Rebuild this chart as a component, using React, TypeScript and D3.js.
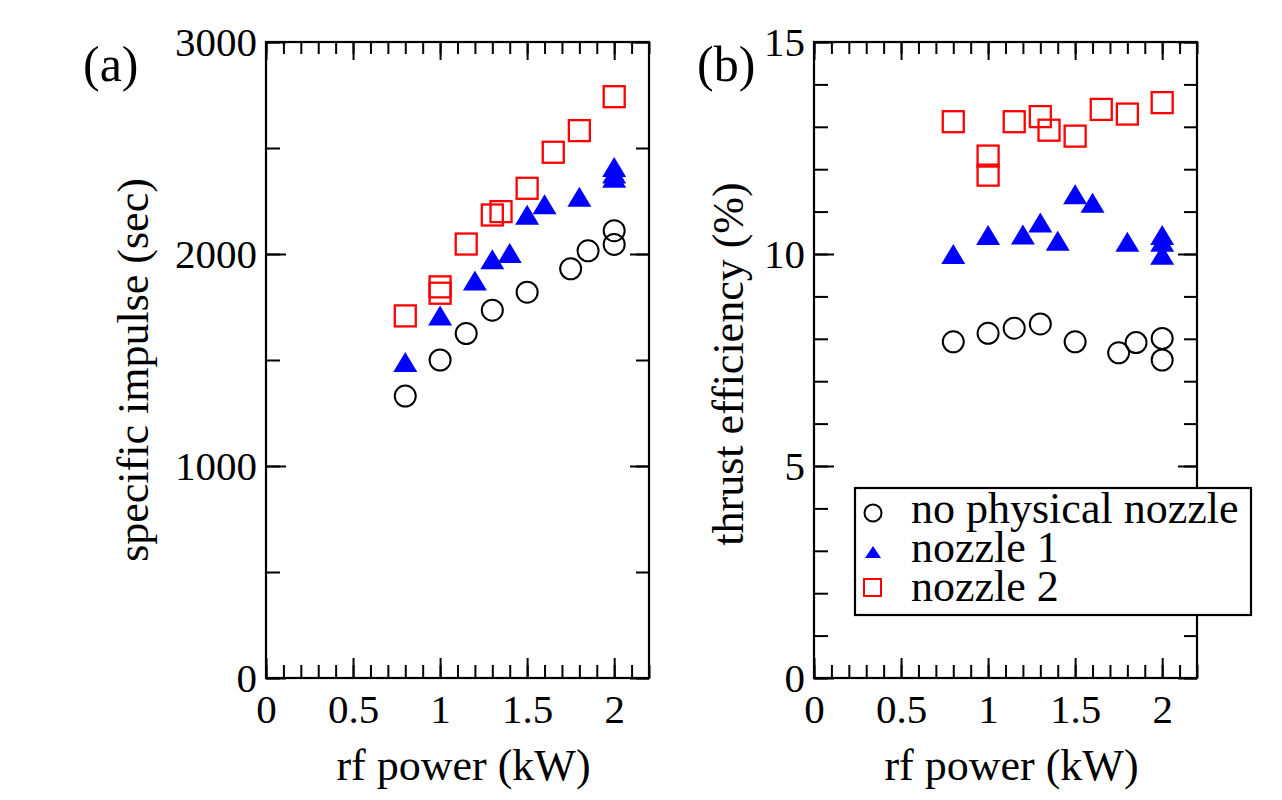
import React, { useEffect, useRef } from "react";
import * as d3 from "d3";

// rf power (kW) for each series
const powerNoNozzle = [0.8, 1.0, 1.15, 1.3, 1.5, 1.75, 1.85, 2.0, 2.0];
const powerNozzle1 = [0.8, 1.0, 1.2, 1.3, 1.4, 1.5, 1.6, 1.8, 2.0, 2.0, 2.0];
const powerNozzle2 = [0.8, 1.0, 1.0, 1.15, 1.3, 1.35, 1.5, 1.65, 1.8, 2.0];

// specific impulse (sec)
const ispNoNozzle = [1330, 1500, 1625, 1735, 1820, 1930, 2015, 2045, 2110];
const ispNozzle1 = [1490, 1710, 1875, 1975, 2005, 2185, 2235, 2270, 2410, 2380, 2360];
const ispNozzle2 = [1708, 1845, 1815, 2047, 2184, 2200, 2310, 2480, 2582, 2742];

// thrust efficiency (%)
const effNoNozzle = [7.93, 8.13, 8.25, 8.35, 7.93, 7.67, 7.91, 8.01, 7.5];
const effNozzle1 = [10.0, 10.45, 10.46, 10.74, 10.31, 11.41, 11.21, 10.29, 10.45, 10.29, 9.98];
const effNozzle2 = [13.12, 12.31, 11.86, 13.12, 13.24, 12.92, 12.78, 13.41, 13.3, 13.57];

const xTicks = [0, 0.5, 1, 1.5, 2];
const ispTicks = [0, 1000, 2000, 3000];
const effTicks = [0, 5, 10, 15];
const seriesNames = ["no physical nozzle", "nozzle 1", "nozzle 2"];

const FONT = "'Liberation Serif', 'Times New Roman', serif";
const top = 42;
const bottom = 678;

const triPath = (w: number, h: number) =>
  `M0,${-h / 2}L${w / 2},${h / 2}L${-w / 2},${h / 2}Z`;

function drawPanel(
  svg: d3.Selection<SVGSVGElement, unknown, null, undefined>,
  opts: {
    left: number;
    right: number;
    yMax: number;
    yTicks: number[];
    yMinorStep: number;
    label: string;
    labelX: number;
    yTitle: string;
    yTitleX: number;
    yTitleY: number;
    ys: number[][];
  }
) {
  const x = d3.scaleLinear().domain([0, 2.2]).range([opts.left, opts.right]);
  const y = d3.scaleLinear().domain([0, opts.yMax]).range([bottom, top]);

  const g = svg.append("g");
  const xMinor = d3.range(0, 2.2001, 0.1).map((d) => +d.toFixed(2));
  const yMinor = d3.range(0, opts.yMax + 0.001, opts.yMinorStep);

  const tickStyle = (sel: d3.Selection<SVGGElement, unknown, null, undefined>) => {
    sel.select(".domain").remove();
    sel.selectAll("line").attr("stroke", "#000").attr("stroke-width", 2);
    sel.selectAll("text").attr("font-family", FONT).attr("font-size", 41).attr("fill", "#000");
  };

  // minor ticks on all four sides
  g.append("g").attr("transform", `translate(0,${bottom})`)
    .call(d3.axisBottom(x).tickValues(xMinor).tickSize(-13).tickFormat(() => ""))
    .call(tickStyle);
  g.append("g").attr("transform", `translate(0,${top})`)
    .call(d3.axisTop(x).tickValues(xMinor).tickSize(-12).tickFormat(() => ""))
    .call(tickStyle);
  g.append("g").attr("transform", `translate(${opts.left},0)`)
    .call(d3.axisLeft(y).tickValues(yMinor).tickSize(-14).tickFormat(() => ""))
    .call(tickStyle);
  g.append("g").attr("transform", `translate(${opts.right},0)`)
    .call(d3.axisRight(y).tickValues(yMinor).tickSize(-13).tickFormat(() => ""))
    .call(tickStyle);

  // major ticks + labels
  g.append("g").attr("transform", `translate(0,${bottom})`)
    .call(d3.axisBottom(x).tickValues(xTicks).tickSize(-20).tickPadding(16).tickFormat((d) => String(d)))
    .call(tickStyle);
  g.append("g").attr("transform", `translate(0,${top})`)
    .call(d3.axisTop(x).tickValues(xTicks).tickSize(-18).tickFormat(() => ""))
    .call(tickStyle);
  g.append("g").attr("transform", `translate(${opts.left},0)`)
    .call(d3.axisLeft(y).tickValues(opts.yTicks).tickSize(-20).tickPadding(9).tickFormat((d) => String(d)))
    .call(tickStyle);
  g.append("g").attr("transform", `translate(${opts.right},0)`)
    .call(d3.axisRight(y).tickValues(opts.yTicks).tickSize(-19).tickFormat(() => ""))
    .call(tickStyle);

  g.append("rect")
    .attr("x", opts.left).attr("y", top)
    .attr("width", opts.right - opts.left).attr("height", bottom - top)
    .attr("fill", "none").attr("stroke", "#000").attr("stroke-width", 2.2);

  // data
  const pts = (xs: number[], vs: number[]) => xs.map((p, i) => ({ p, v: vs[i] }));

  g.append("g").selectAll("path")
    .data(pts(powerNozzle1, opts.ys[1]))
    .enter().append("path")
    .attr("transform", (d) => `translate(${x(d.p)},${y(d.v)})`)
    .attr("d", triPath(24, 20))
    .attr("fill", "#0000ff");

  g.append("g").selectAll("rect")
    .data(pts(powerNozzle2, opts.ys[2]))
    .enter().append("rect")
    .attr("x", (d) => x(d.p) - 10.5).attr("y", (d) => y(d.v) - 10.5)
    .attr("width", 21).attr("height", 21)
    .attr("fill", "none").attr("stroke", "#ff0000").attr("stroke-width", 2.3);

  g.append("g").selectAll("circle")
    .data(pts(powerNoNozzle, opts.ys[0]))
    .enter().append("circle")
    .attr("cx", (d) => x(d.p)).attr("cy", (d) => y(d.v)).attr("r", 10.5)
    .attr("fill", "none").attr("stroke", "#000").attr("stroke-width", 2);

  // titles
  g.append("text")
    .attr("x", opts.labelX).attr("y", 81)
    .attr("font-family", FONT).attr("font-size", 50)
    .text(opts.label);

  g.append("text")
    .attr("x", (opts.left + opts.right) / 2 + 6).attr("y", 780)
    .attr("text-anchor", "middle")
    .attr("font-family", FONT).attr("font-size", 44)
    .text("rf power (kW)");

  g.append("text")
    .attr("transform", `translate(${opts.yTitleX},${opts.yTitleY}) rotate(-90)`)
    .attr("text-anchor", "middle")
    .attr("font-family", FONT).attr("font-size", 44)
    .text(opts.yTitle);
}

export default function App() {
  const ref = useRef<SVGSVGElement>(null);

  useEffect(() => {
    const svg = d3.select(ref.current as SVGSVGElement);
    svg.selectAll("*").remove();

    drawPanel(svg, {
      left: 266, right: 649, yMax: 3000, yTicks: ispTicks, yMinorStep: 500,
      label: "(a)", labelX: 83, yTitle: "specific impulse (sec)", yTitleX: 148, yTitleY: 370,
      ys: [ispNoNozzle, ispNozzle1, ispNozzle2],
    });
    drawPanel(svg, {
      left: 814, right: 1197, yMax: 15, yTicks: effTicks, yMinorStep: 1,
      label: "(b)", labelX: 697, yTitle: "thrust efficiency (%)", yTitleX: 743, yTitleY: 364,
      ys: [effNoNozzle, effNozzle1, effNozzle2],
    });

    // legend
    const lg = svg.append("g");
    lg.append("rect")
      .attr("x", 855).attr("y", 488).attr("width", 396).attr("height", 127)
      .attr("fill", "#fff").attr("stroke", "#000").attr("stroke-width", 2.2);
    const rowY = [523, 562, 601];
    lg.append("circle").attr("cx", 873).attr("cy", rowY[0] - 10).attr("r", 8.5)
      .attr("fill", "none").attr("stroke", "#000").attr("stroke-width", 2);
    lg.append("path").attr("transform", `translate(873,${rowY[1] - 10})`)
      .attr("d", triPath(16, 12)).attr("fill", "#0000ff");
    lg.append("rect").attr("x", 864).attr("y", rowY[2] - 22).attr("width", 17).attr("height", 17)
      .attr("fill", "none").attr("stroke", "#ff0000").attr("stroke-width", 2);
    lg.selectAll("text.lbl")
      .data(seriesNames)
      .enter().append("text")
      .attr("class", "lbl")
      .attr("x", 911).attr("y", (d, i) => rowY[i])
      .attr("font-family", FONT).attr("font-size", 44)
      .text((d) => d);
  }, []);

  return (
    <svg
      ref={ref}
      width={1282}
      height={800}
      style={{ position: "absolute", left: 0, top: 0, background: "#fff" }}
    />
  );
}
